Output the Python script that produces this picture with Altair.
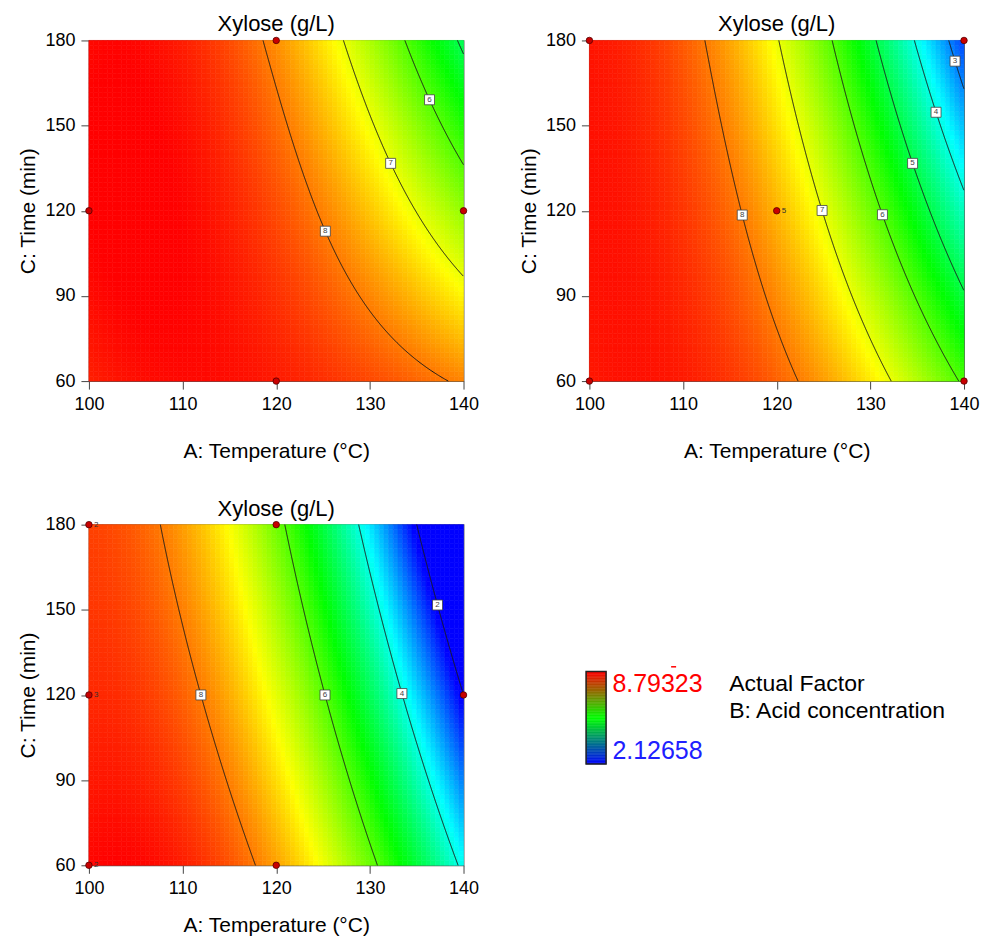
import numpy as np
import pandas as pd
import altair as alt

alt.data_transformers.disable_max_rows()

# ---------------- data ----------------
TEMP_TICKS = [100, 110, 120, 130, 140]
TIME_TICKS = [60, 90, 120, 150, 180]
SCALE_MIN = 2.12658
SCALE_MAX = 8.79323

# Panel 1: contour points (level, temperature, time)
P1_LEVELS = [8, 7, 6, 5]
P1_LINE_LEVEL = [8, 8, 8, 8, 7, 7, 7, 6, 6, 6, 5, 5]
P1_LINE_TEMP = [118.4, 125.1, 128.9, 138.7, 127.1, 132.3, 140.0, 133.8, 136.4, 140.0, 139.4, 140.0]
P1_LINE_TIME = [180, 112.8, 90, 60, 180, 136.7, 96.4, 180, 159.1, 135.7, 180, 175]
P1_SHADE_TEMP = [100, 100, 100, 110, 120, 120]
P1_SHADE_TIME = [180, 120, 60, 120, 60, 120]
P1_SHADE_VAL = [8.75, 8.75, 8.6, 8.8, 8.6, 8.35]
P1_LABEL_LEVEL = [8, 7, 6]
P1_LABEL_TIME = [112.8, 136.7, 159.1]
P1_PT_TEMP = [120, 100, 140, 120]
P1_PT_TIME = [180, 120, 120, 60]
P1_PT_TEXT = ["", "", "", ""]

# Panel 2
P2_LEVELS = [8, 7, 6, 5, 4, 3]
P2_LINE_LEVEL = [8, 8, 8, 8, 7, 7, 7, 6, 6, 6, 5, 5, 5, 4, 4, 4, 3, 3, 3]
P2_LINE_TEMP = [112.3, 116.5, 118.9, 122.8, 120.1, 124.9, 132.4, 125.8, 131.4, 139.3,
                130.5, 134.6, 140.0, 134.6, 137.0, 140.0, 138.2, 138.9, 140.0]
P2_LINE_TIME = [180, 118.5, 90, 60, 180, 120.1, 60, 180, 118.6, 60,
                180, 136.7, 91.7, 180, 154.7, 126.3, 180, 172.7, 162.7]
P2_SHADE_TEMP = [100, 100, 100, 110, 110, 110, 140]
P2_SHADE_TIME = [180, 120, 60, 180, 120, 60, 180]
P2_SHADE_VAL = [8.6, 8.7, 8.7, 8.35, 8.4, 8.5, 2.7]
P2_LABEL_LEVEL = [8, 7, 6, 5, 4, 3]
P2_LABEL_TIME = [118.5, 120.1, 118.6, 136.7, 154.7, 172.7]
P2_PT_TEMP = [100, 140, 100, 140, 120]
P2_PT_TIME = [180, 180, 60, 60, 120]
P2_PT_TEXT = ["", "", "", "", "5"]

# Panel 3
P3_LEVELS = [8, 6, 4, 2]
P3_LINE_LEVEL = [8, 8, 8, 6, 6, 6, 4, 4, 4, 2, 2, 2]
P3_LINE_TEMP = [107.9, 112.2, 117.9, 120.9, 125.3, 130.8, 128.8, 133.5, 139.4, 135.0, 137.2, 140.0]
P3_LINE_TIME = [180, 120, 60, 180, 120, 60, 180, 120.5, 60, 180, 151.7, 120]
P3_SHADE_TEMP = [100, 100, 100, 118.5]
P3_SHADE_TIME = [180, 120, 60, 120]
P3_SHADE_VAL = [8.35, 8.55, 8.75, 7.1]
P3_LABEL_LEVEL = [8, 6, 4, 2]
P3_LABEL_TIME = [120, 120, 120.5, 151.7]
P3_PT_TEMP = [100, 100, 100, 120, 120, 140]
P3_PT_TIME = [180, 120, 60, 180, 60, 120]
P3_PT_TEXT = ["2", "3", "2", "", "", ""]

LEGEND_TEXT = ["Actual Factor", "B: Acid concentration"]

# ---------------- response-surface fit ----------------
def design(T, t):
    a = (np.asarray(T, float) - 120.0) / 20.0
    c = (np.asarray(t, float) - 120.0) / 60.0
    return np.column_stack([np.ones_like(a), a, c, a * c, a * a, c * c,
                            a ** 3, a * a * c, a * c * c])


def fit(lv, lT, lt, sT, st, sv):
    X = np.vstack([design(lT, lt), design(sT, st)])
    y = np.concatenate([np.asarray(lv, float), np.asarray(sv, float)])
    w = np.concatenate([np.ones(len(lv)), 0.7 * np.ones(len(sv))])
    W = np.diag(w)
    lam = np.eye(X.shape[1]) * 1e-3
    lam[0, 0] = 0
    beta = np.linalg.solve(X.T @ W @ X + lam, X.T @ W @ y)
    return lambda T, t: design(np.ravel(T), np.ravel(t)) @ beta


def crossing(model, level, t):
    Td = np.linspace(100, 140, 1601)
    F = model(Td, np.full_like(Td, t)) - level
    idx = np.where((F[:-1] > 0) & (F[1:] <= 0))[0]
    if len(idx) == 0:
        return None
    i = idx[-1]
    return Td[i] + (Td[i + 1] - Td[i]) * F[i] / (F[i] - F[i + 1])


def build_frames(model, levels, lab_level, lab_time):
    te = np.linspace(100, 140, 81)
    ye = np.linspace(60, 180, 73)
    TT, YY = np.meshgrid((te[:-1] + te[1:]) / 2, (ye[:-1] + ye[1:]) / 2)
    T0, Y0 = np.meshgrid(te[:-1], ye[:-1])
    T1, Y1 = np.meshgrid(te[1:], ye[1:])
    z = model(TT.ravel(), YY.ravel())
    grid = pd.DataFrame({"T": T0.ravel(), "T2": T1.ravel(), "t": Y0.ravel(),
                         "t2": Y1.ravel(), "z": z})
    rows = []
    seg = 0
    for L in levels:
        prev = False
        for t in np.linspace(60, 180, 481):
            T = crossing(model, L, t)
            if T is None:
                if prev:
                    seg += 1
                prev = False
                continue
            rows.append({"T": T, "t": t, "seg": f"{L}-{seg}"})
            prev = True
        seg += 1
    lines = pd.DataFrame(rows)
    lab = []
    for L, t in zip(lab_level, lab_time):
        T = crossing(model, L, t)
        if T is not None:
            lab.append({"T": T, "t": t, "lab": str(L)})
    labels = pd.DataFrame(lab)
    return grid, lines, labels


CSCALE = alt.Scale(domain=[SCALE_MIN, SCALE_MIN + (SCALE_MAX - SCALE_MIN) * 0.25,
                           SCALE_MIN + (SCALE_MAX - SCALE_MIN) * 0.5,
                           SCALE_MIN + (SCALE_MAX - SCALE_MIN) * 0.75, SCALE_MAX],
                   range=["#0000ff", "#00ffff", "#00ff00", "#ffff00", "#ff0000"],
                   interpolate="rgb", clamp=True)
XS = alt.Scale(domain=[100, 140], nice=False, zero=False)
YS = alt.Scale(domain=[60, 180], nice=False, zero=False)


def panel(lv, lT, lt, sT, st, sv, levels, lab_level, lab_time, pT, pt, ptxt, xtitle_pad):
    model = fit(lv, lT, lt, sT, st, sv)
    grid, lines, labels = build_frames(model, levels, lab_level, lab_time)
    heat = alt.Chart(grid).mark_rect(strokeWidth=0.6).encode(
        x=alt.X("T:Q", scale=XS, axis=alt.Axis(values=TEMP_TICKS, title="A: Temperature (°C)",
                                              titlePadding=xtitle_pad)),
        x2="T2:Q",
        y=alt.Y("t:Q", scale=YS, axis=alt.Axis(values=TIME_TICKS, title="C: Time (min)")),
        y2="t2:Q",
        color=alt.Color("z:Q", scale=CSCALE, legend=None),
        stroke=alt.Stroke("z:Q", scale=CSCALE, legend=None),
    )
    cont = alt.Chart(lines).mark_line(color="#1a1a1a", strokeWidth=1).encode(
        x="T:Q", y="t:Q", detail="seg:N", order="t:Q")
    box = alt.Chart(labels).mark_square(size=100, fill="white", stroke="#444",
                                        strokeWidth=0.8, opacity=1).encode(x="T:Q", y="t:Q")
    boxt = alt.Chart(labels).mark_text(fontSize=8, color="#444").encode(
        x="T:Q", y="t:Q", text="lab:N")
    pts_df = pd.DataFrame({"T": pT, "t": pt, "s": ptxt})
    pts = alt.Chart(pts_df).mark_circle(size=42, fill="#c80000", stroke="#550000",
                                        strokeWidth=0.8, opacity=1, clip=False).encode(
        x="T:Q", y="t:Q")
    ptl = alt.Chart(pts_df).mark_text(fontSize=8, align="left", dx=5, color="#333",
                                      clip=False).encode(x="T:Q", y="t:Q", text="s:N")
    return alt.layer(heat, cont, box, boxt, pts, ptl).properties(
        width=375, height=341,
        title=alt.Title("Xylose (g/L)", frame="group"),
        view=alt.ViewBackground(stroke="#555", strokeWidth=1.2),
    )


p1 = panel(P1_LINE_LEVEL, P1_LINE_TEMP, P1_LINE_TIME, P1_SHADE_TEMP, P1_SHADE_TIME,
           P1_SHADE_VAL, P1_LEVELS, P1_LABEL_LEVEL, P1_LABEL_TIME, P1_PT_TEMP, P1_PT_TIME,
           P1_PT_TEXT, 27)
p2 = panel(P2_LINE_LEVEL, P2_LINE_TEMP, P2_LINE_TIME, P2_SHADE_TEMP, P2_SHADE_TIME,
           P2_SHADE_VAL, P2_LEVELS, P2_LABEL_LEVEL, P2_LABEL_TIME, P2_PT_TEMP, P2_PT_TIME,
           P2_PT_TEXT, 27)
p3 = panel(P3_LINE_LEVEL, P3_LINE_TEMP, P3_LINE_TIME, P3_SHADE_TEMP, P3_SHADE_TIME,
           P3_SHADE_VAL, P3_LEVELS, P3_LABEL_LEVEL, P3_LABEL_TIME, P3_PT_TEMP, P3_PT_TIME,
           P3_PT_TEXT, 17)

# ---------------- colour-bar legend ----------------
LEG_H = 341
BAR_TOP, BAR_BOT = 147.0, 239.6
k = (SCALE_MAX - SCALE_MIN) / (BAR_BOT - BAR_TOP)
LEG_DOM = [SCALE_MIN - (LEG_H - BAR_BOT) * k, SCALE_MAX + BAR_TOP * k]
edges = np.linspace(SCALE_MIN, SCALE_MAX, 61)
leg_df = pd.DataFrame({"lo": edges[:-1], "hi": edges[1:], "lv": (edges[:-1] + edges[1:]) / 2})
LYS = alt.Scale(domain=LEG_DOM, nice=False, zero=False)
LSCALE = alt.Scale(domain=[SCALE_MIN, (SCALE_MIN + SCALE_MAX) / 2, SCALE_MAX],
                   range=["#0000ff", "#00ff00", "#ff0000"], interpolate="rgb")
BX0, BX1 = -3.3, 16.7
bar = alt.Chart(leg_df).mark_rect(strokeWidth=0.5).encode(
    x=alt.value(BX0), x2=alt.value(BX1),
    y=alt.Y("lo:Q", scale=LYS, axis=None), y2="hi:Q",
    color=alt.Color("lv:Q", scale=LSCALE, legend=None),
    stroke=alt.Stroke("lv:Q", scale=LSCALE, legend=None))
border = alt.Chart(pd.DataFrame({"lo": [SCALE_MIN], "hi": [SCALE_MAX]})).mark_rect(
    fill=None, stroke="#222", strokeWidth=1.5).encode(
    x=alt.value(BX0), x2=alt.value(BX1), y=alt.Y("lo:Q", scale=LYS, axis=None), y2="hi:Q")
num_df = pd.DataFrame({"s": [f"{SCALE_MAX:.5f}", f"{SCALE_MIN:.5f}"],
                       "c": ["#ff0000", "#2020ff"], "py": [159.3, 226.3]})
nums = alt.Chart(num_df).mark_text(fontSize=25, align="left", baseline="middle").encode(
    x=alt.value(23.0), y=alt.Y("py:Q", scale=None), text="s:N",
    color=alt.Color("c:N", scale=None))
txt_df = pd.DataFrame({"s": LEGEND_TEXT, "py": [159.3, 186.3]})
txts = alt.Chart(txt_df).mark_text(fontSize=23, align="left", baseline="middle",
                                   color="black").encode(
    x=alt.value(140.0), y=alt.Y("py:Q", scale=None), text="s:N")
dash = alt.Chart(pd.DataFrame({"a": [0]})).mark_rule(color="#ff0000", strokeWidth=1.5).encode(
    x=alt.value(81.8), x2=alt.value(86.8), y=alt.value(142.3))
legend = alt.layer(bar, border, nums, txts, dash).properties(
    width=375, height=LEG_H, view=alt.ViewBackground(stroke=None))

chart = alt.concat(
    p1, p2, p3, legend, columns=2, bounds="flush",
    spacing={"row": 143.7, "column": 126},
).resolve_scale(
    x="independent", y="independent", color="independent", stroke="independent"
).properties(
    padding={"left": 9, "top": 4, "right": 0, "bottom": 0}
).configure(
    font="Liberation Sans"
).configure_view(
    stroke=None
).configure_title(
    fontSize=22, fontWeight="normal", color="black", anchor="middle", offset=-5, baseline="bottom"
).configure_axis(
    labelFontSize=18, titleFontSize=21, titleFontWeight="normal", labelColor="black",
    titleColor="black", tickColor="#444", tickSize=8, domain=False, grid=False,
    labelFlush=False, labelPadding=6
).configure_axisY(
    titlePadding=6
)

chart.save("out.html", embed_options={"renderer": "svg", "actions": False})
